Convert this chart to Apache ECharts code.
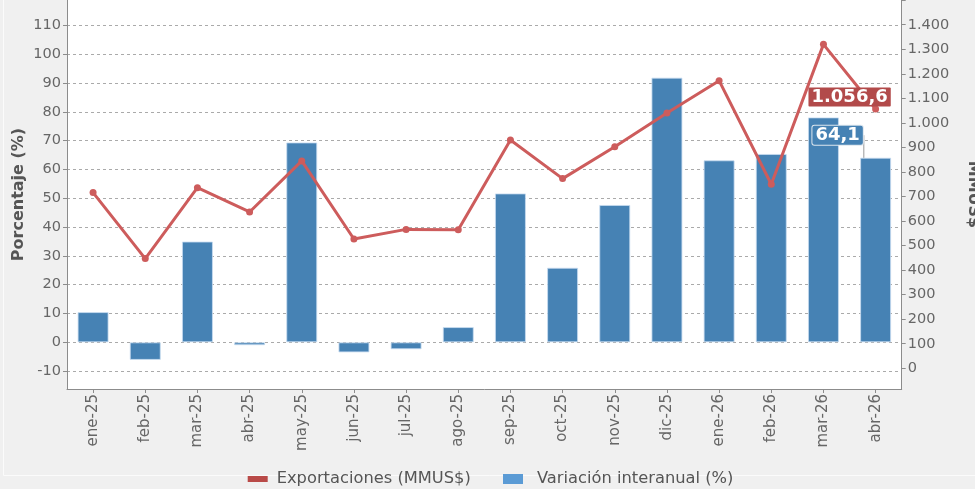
<!DOCTYPE html>
<html><head><meta charset="utf-8">
<script src="https://cdn.jsdelivr.net/npm/echarts@6/dist/echarts.min.js"></script>
<style>html,body{margin:0;padding:0;background:#f0f0f0;}#c{width:975px;height:489px;}</style>
</head><body><div id="c"></div>
<script>
const categories = ['ene-25','feb-25','mar-25','abr-25','may-25','jun-25','jul-25','ago-25','sep-25','oct-25','nov-25','dic-25','ene-26','feb-26','mar-26','abr-26'];
const variacion = [10.5, -6.1, 35.0, -1.0, 69.4, -3.5, -2.4, 5.3, 51.7, 25.9, 47.7, 91.9, 63.2, 65.4, 78.1, 64.1];
const exportaciones = [716, 447, 736, 637, 845, 527, 566, 565, 930, 773, 903, 1040, 1172, 750, 1320, 1056.6];
const leftRange = [-16.2, 118.85];
const rightRange = [-84.4, 1500.8];
const leftLabelMax = 110;
const rightLabelMax = 1400;

function fmtThousands(v){ return v > rightLabelMax ? '' : String(Math.round(v)).replace(/\B(?=(\d{3})+(?!\d))/g, '.'); }
function fmtLeft(v){ return v > leftLabelMax ? '' : String(v); }
function fmtEs(v){ const s = v.toFixed(1).split('.'); return s[0].replace(/\B(?=(\d{3})+(?!\d))/g, '.') + ',' + s[1]; }

const FONT = 'DejaVu Sans';
const chart = echarts.init(document.getElementById('c'), null, {renderer:'canvas'});
const last = categories.length - 1;

chart.setOption({
  backgroundColor: '#f0f0f0',
  animation: false,
  textStyle: {fontFamily: FONT},
  graphic: [{type:'rect', silent:true, z:-10, shape:{x:3.5, y:-10, width:1000, height:485.5}, style:{fill:'none', stroke:'#fbfbfb', lineWidth:1}}],
  grid: {left: 67, right: 73.3, top: 0, bottom: 100, show: true, backgroundColor: '#ffffff', borderWidth: 0, containLabel: false, outerBoundsMode: 'none'},
  legend: [
    {data:[{name:'Exportaciones (MMUS$)', itemStyle:{color:'#b94a48'}}], left: 242.7, top: 466, itemWidth: 20, itemHeight: 6, icon:'rect',
     textStyle:{fontSize:16.3, color:'#555', fontFamily:FONT, padding:[0,0,0,4]}},
    {data:[{name:'Variación interanual (%)', itemStyle:{color:'#5b9bd5', borderWidth:0}}], left: 498, top: 466, itemWidth: 20, itemHeight: 10, icon:'rect',
     textStyle:{fontSize:16.3, color:'#555', fontFamily:FONT, padding:[0,0,0,9]}}
  ],
  xAxis: {
    type:'category', data: categories,
    axisLine:{show:true, onZero:false, lineStyle:{color:'#8c8c8c', width:1}},
    axisTick:{show:true, alignWithLabel:true, length:4, lineStyle:{color:'#8c8c8c'}},
    axisLabel:{rotate:90, fontSize:15, color:'#666', fontFamily:FONT, margin:5}
  },
  yAxis: [
    {type:'value', position:'left', min:leftRange[0], max:leftRange[1], minInterval:10, maxInterval:10, splitNumber:13,
     name:'Porcentaje (%)', nameLocation:'middle', nameGap:40.5, nameRotate:90, nameMoveOverlap:false,
     nameTextStyle:{fontSize:16, fontWeight:'bold', color:'#555', fontFamily:FONT},
     axisLine:{show:true, lineStyle:{color:'#8c8c8c', width:1}},
     axisTick:{show:true, length:4, lineStyle:{color:'#8c8c8c'}},
     axisLabel:{fontSize:14.5, color:'#666', fontFamily:FONT, margin:6, showMinLabel:false, showMaxLabel:false, formatter: fmtLeft},
     splitLine:{show:true, showMinLine:false, showMaxLine:false, lineStyle:{color:'#aaa', type:[3,3], width:1}}},
    {type:'value', position:'right', min:rightRange[0], max:rightRange[1], minInterval:100, maxInterval:100, splitNumber:15,
     name:'MMUS$', nameLocation:'middle', nameGap:63, nameRotate:-90, nameMoveOverlap:false,
     nameTextStyle:{fontSize:16, fontWeight:'bold', color:'#555', fontFamily:FONT},
     axisLine:{show:true, lineStyle:{color:'#8c8c8c', width:1}},
     axisTick:{show:true, length:4, lineStyle:{color:'#8c8c8c'}},
     axisLabel:{fontSize:14.5, color:'#666', fontFamily:FONT, margin:6, showMinLabel:false, showMaxLabel:false, formatter: fmtThousands},
     splitLine:{show:false}}
  ],
  series: [
    {name:'Variación interanual (%)', type:'bar', yAxisIndex:0, barWidth:31,
     itemStyle:{color:'#4682b4', borderColor:'rgba(200,220,240,0.8)', borderWidth:1},
     data: variacion.map((v,i)=> i===last ? {value:v, label:{show:true}} : v),
     label:{show:false, position:'top', distance:5, formatter:p=>fmtEs(p.value), color:'#fff', fontWeight:'bold', fontSize:18, fontFamily:FONT,
            backgroundColor:'#4682b4', borderColor:'#dde6ee', borderWidth:1, borderRadius:2, padding:[1,3,0,3], lineHeight:18},
     labelLine:{show:true, smooth:false, minTurnAngle:0, lineStyle:{color:'#999', width:1}},
     labelLayout: p => p.dataIndex===last ? {dx:-38, dy:-8} : {},
     z:2},
    {name:'Exportaciones (MMUS$)', type:'line', yAxisIndex:1, data: exportaciones.map((v,i)=> i===last ? {value:v, label:{show:true}} : v),
     lineStyle:{color:'#cd5c5c', width:3}, itemStyle:{color:'#cd5c5c'}, symbol:'circle', symbolSize:7,
     label:{show:false, position:'inside', offset:[-26,-12], formatter:p=>fmtEs(p.value), color:'#fff', fontWeight:'bold', fontSize:18, fontFamily:FONT,
            backgroundColor:'#b24a4a', padding:[1,3,0,3], lineHeight:18, borderRadius:1},
     z:3}
  ]
});
</script></body></html>
